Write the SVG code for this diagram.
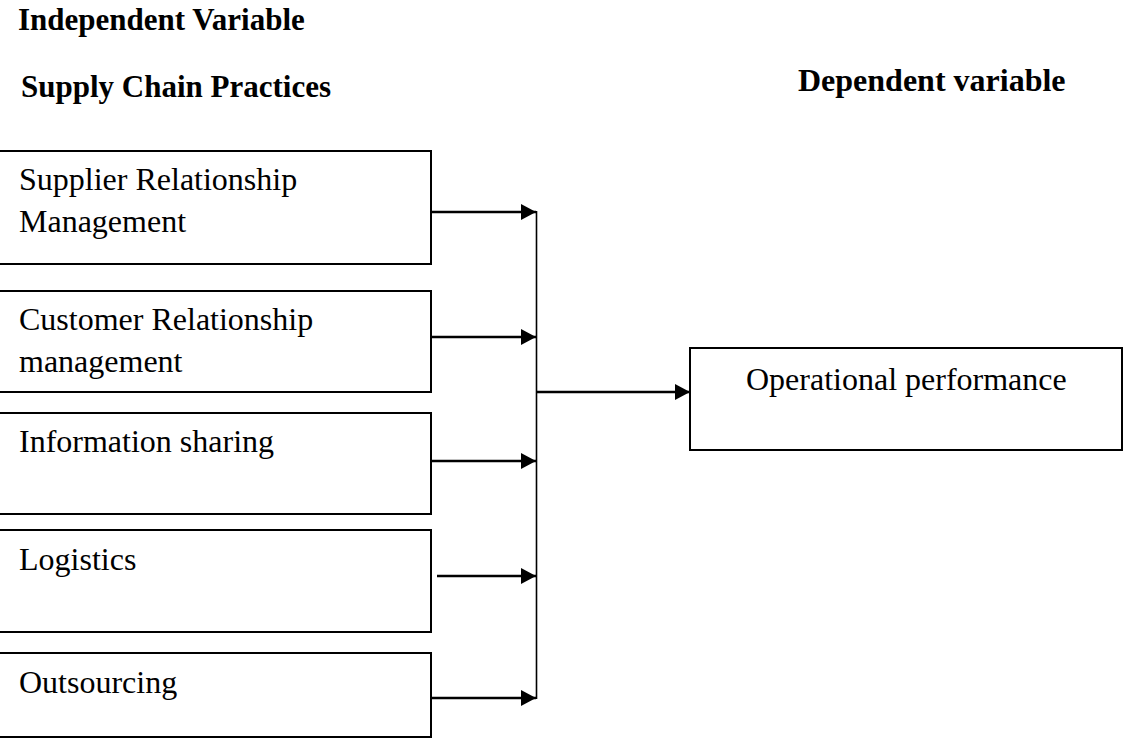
<svg xmlns="http://www.w3.org/2000/svg" width="1123" height="738" viewBox="0 0 1123 738">
<style>
.box{fill:#fff;stroke:#000;stroke-width:2}
.t{font-family:"Liberation Serif","Times New Roman",serif;font-size:32px;fill:#000}
.h{font-family:"Liberation Serif","Times New Roman",serif;font-size:31px;font-weight:bold;fill:#000}
.c{stroke:#000;stroke-width:2.5;fill:none}
.v{stroke:#000;stroke-width:1.6;fill:none}
</style>
<defs>
<marker id="ah" markerWidth="15" markerHeight="16" refX="15" refY="8" orient="auto" markerUnits="userSpaceOnUse">
<path d="M0,0 L15,8 L0,16 Z" fill="#000"/>
</marker>
</defs>
<rect width="1123" height="738" fill="#fff"/>
<g id="headers">
<text class="h" x="18" y="30">Independent Variable</text>
<text class="h" x="21" y="97">Supply Chain Practices</text>
<text class="h" x="798" y="91" style="font-size:32px">Dependent variable</text>
</g>
<g id="n1">
<rect class="box" x="-1" y="151" width="432" height="113"/>
<text class="t" x="19" y="190">Supplier Relationship</text>
<text class="t" x="19" y="232">Management</text>
</g>
<g id="n2">
<rect class="box" x="-1" y="291" width="432" height="101"/>
<text class="t" x="19" y="330">Customer Relationship</text>
<text class="t" x="19" y="372">management</text>
</g>
<g id="n3">
<rect class="box" x="-1" y="413" width="432" height="101"/>
<text class="t" x="19" y="452">Information sharing</text>
</g>
<g id="n4">
<rect class="box" x="-1" y="530" width="432" height="102"/>
<text class="t" x="19" y="570">Logistics</text>
</g>
<g id="n5">
<rect class="box" x="-1" y="653" width="432" height="84"/>
<text class="t" x="19" y="693">Outsourcing</text>
</g>
<g id="n6">
<rect class="box" x="690" y="348" width="432" height="102"/>
<text class="t" x="746" y="390">Operational performance</text>
</g>
<g id="connectors">
<line class="v" x1="536.5" y1="211" x2="536.5" y2="699"/>
<line class="c" x1="431" y1="212" x2="536" y2="212" marker-end="url(#ah)"/>
<line class="c" x1="431" y1="337" x2="536" y2="337" marker-end="url(#ah)"/>
<line class="c" x1="431" y1="461" x2="536" y2="461" marker-end="url(#ah)"/>
<line class="c" x1="437" y1="576" x2="536" y2="576" marker-end="url(#ah)"/>
<line class="c" x1="431" y1="698" x2="536" y2="698" marker-end="url(#ah)"/>
<line class="c" x1="536" y1="392" x2="690" y2="392" marker-end="url(#ah)"/>
</g>
</svg>
